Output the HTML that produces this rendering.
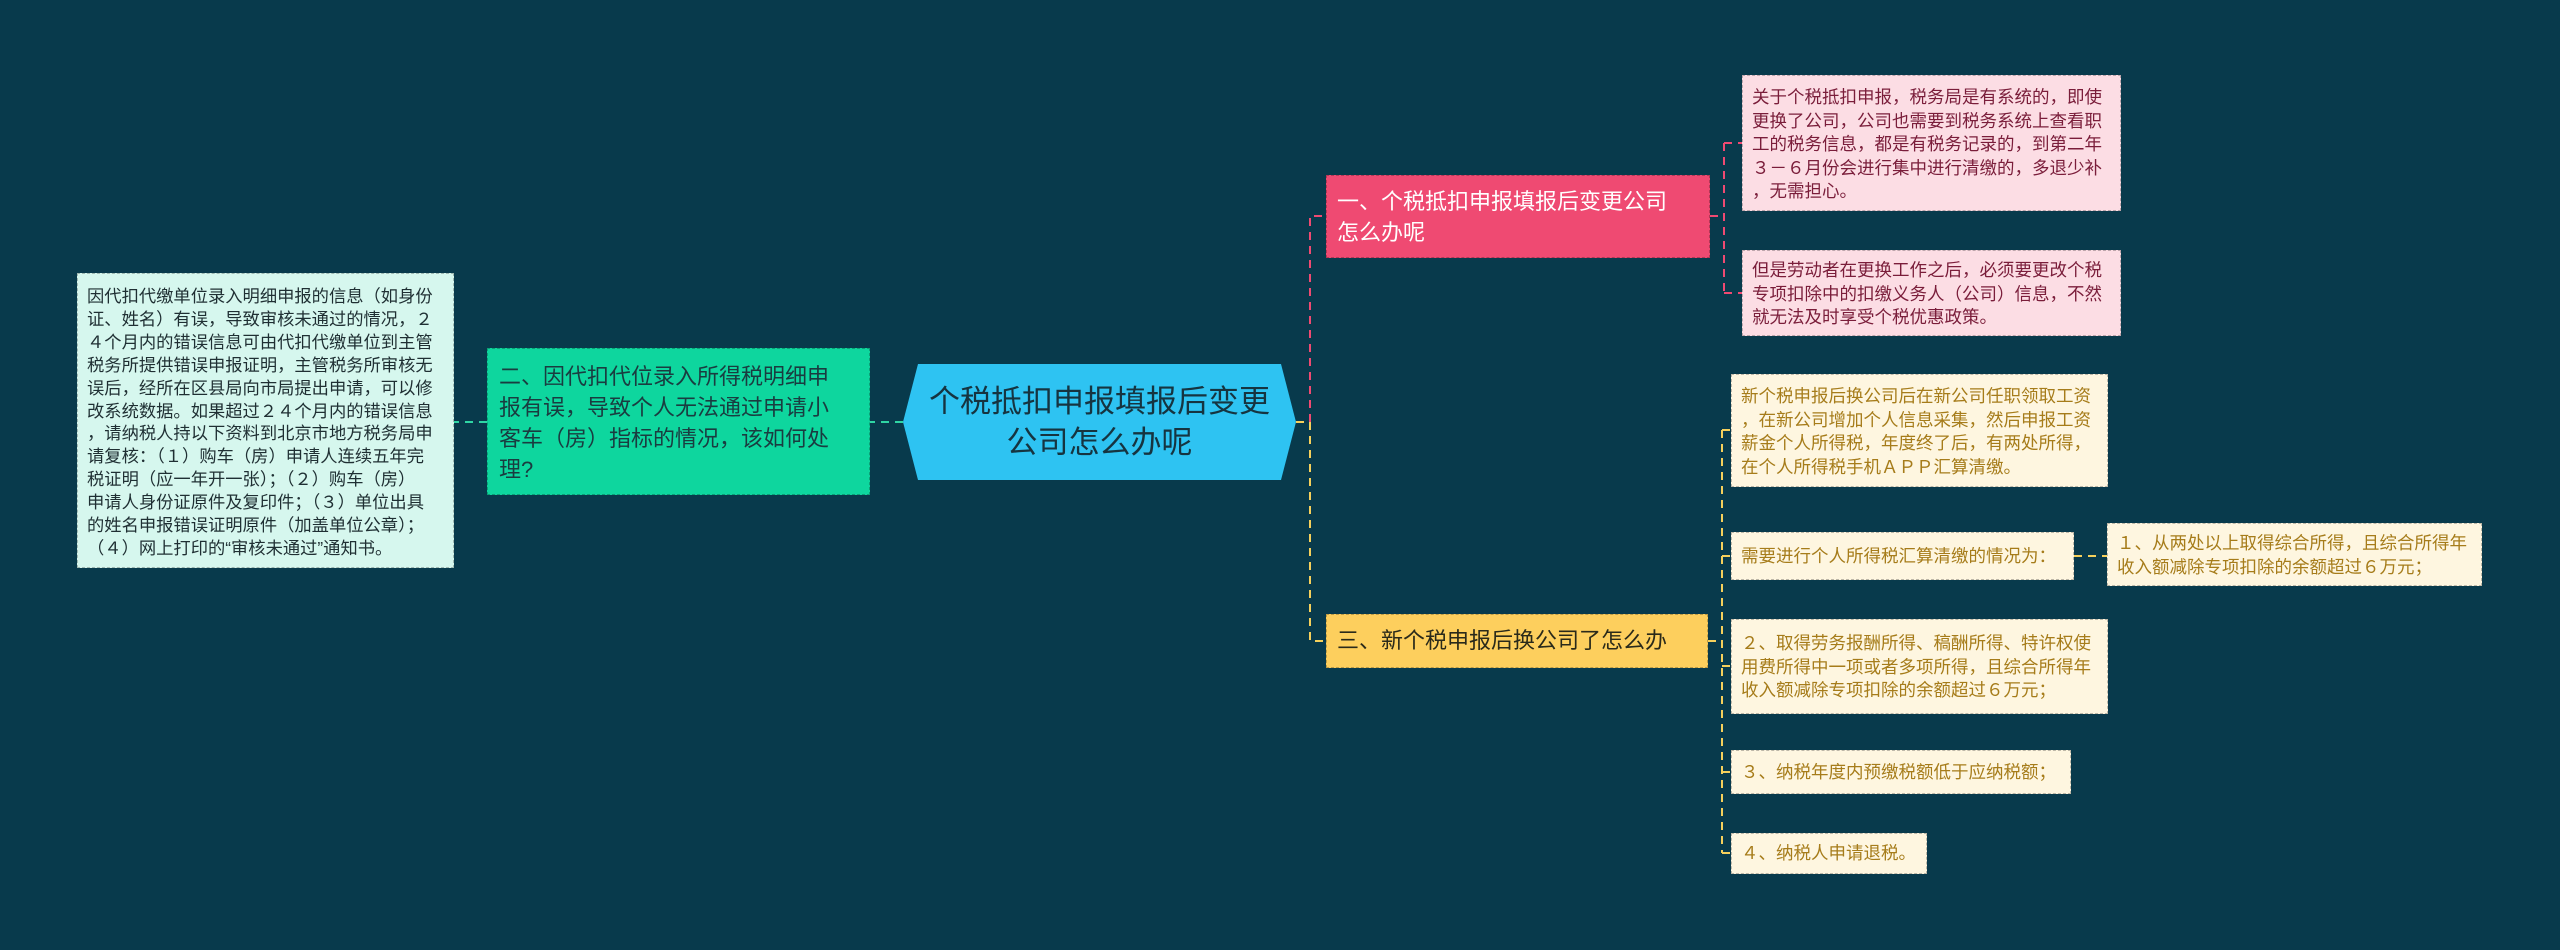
<!DOCTYPE html>
<html><head><meta charset="utf-8"><style>
body{margin:0;width:2560px;height:950px;background:#083a4c;position:relative;overflow:hidden;font-family:"Liberation Sans","Noto Sans CJK SC",sans-serif}
.b{position:absolute;box-sizing:border-box;white-space:nowrap;border:1.5px dashed rgba(0,0,0,0.25)}
</style></head><body>
<svg width="2560" height="950" style="position:absolute;left:0;top:0">
<g fill="none" stroke-width="2" stroke-dasharray="8,6">
<path d="M903 422 H870" stroke="#2fd6a4"/>
<path d="M487 422 H454" stroke="#2fd6a4"/>
<path d="M1296 422 H1310 V216 H1326" stroke="#ef4a72"/>
<path d="M1296 422 H1310 V641 H1326" stroke="#f5d05c"/>
<path d="M1710 216 H1724 M1724 143 V293 M1724 143 H1742 M1724 293 H1742" stroke="#ef4a72"/>
<path d="M1708 641 H1722 M1722 430 V853 M1722 430 H1731 M1722 556 H1731 M1722 666 H1731 M1722 772 H1731 M1722 853 H1731 M2074 556 H2107" stroke="#f5d05c"/>
</g>
<polygon points="903,422 918,364 1281,364 1296,422 1281,480 918,480" fill="#2ec3f2"/>
</svg>
<div style="position:absolute;left:903px;top:364px;width:393px;height:116px;display:flex;align-items:center;justify-content:center;text-align:center;font-size:31px;line-height:41px;color:#163440">个税抵扣申报填报后变更<br>公司怎么办呢</div>

<div class="b" style="left:487px;top:348px;width:383px;height:147px;background:#0ed69e;color:#1a3c40;font-size:22px;line-height:31px;padding:12px 10px 0 11px">二、因代扣代位录入所得税明细申<br>报有误，导致个人无法通过申请小<br>客车（房）指标的情况，该如何处<br>理?</div>

<div class="b" style="left:77px;top:273px;width:377px;height:295px;background:#d6f7ee;color:#1f2f33;font-size:17.3px;line-height:22.9px;padding:11px 8px 0 9px">因代扣代缴单位录入明细申报的信息（如身份<br>证、姓名）有误，导致审核未通过的情况，２<br>４个月内的错误信息可由代扣代缴单位到主管<br>税务所提供错误申报证明，主管税务所审核无<br>误后，经所在区县局向市局提出申请，可以修<br>改系统数据。如果超过２４个月内的错误信息<br>，请纳税人持以下资料到北京市地方税务局申<br>请复核：（１）购车（房）申请人连续五年完<br>税证明（应一年开一张）；（２）购车（房）<br>申请人身份证原件及复印件；（３）单位出具<br>的姓名申报错误证明原件（加盖单位公章）；<br>（４）网上打印的“审核未通过”通知书。</div>

<div class="b" style="left:1326px;top:175px;width:384px;height:83px;background:#ef4a72;color:#fff;font-size:22px;line-height:31px;padding:10px 10px 0 10px">一、个税抵扣申报填报后变更公司<br>怎么办呢</div>

<div class="b" style="left:1742px;top:75px;width:379px;height:136px;background:#fcdde4;color:#7a1d3a;font-size:17.5px;line-height:23.5px;padding:10px 8px 0 9px">关于个税抵扣申报，税务局是有系统的，即使<br>更换了公司，公司也需要到税务系统上查看职<br>工的税务信息，都是有税务记录的，到第二年<br>３－６月份会进行集中进行清缴的，多退少补<br>，无需担心。</div>
<div class="b" style="left:1742px;top:250px;width:379px;height:86px;background:#fcdde4;color:#7a1d3a;font-size:17.5px;line-height:23.5px;padding:8px 8px 0 9px">但是劳动者在更换工作之后，必须要更改个税<br>专项扣除中的扣缴义务人（公司）信息，不然<br>就无法及时享受个税优惠政策。</div>

<div class="b" style="left:1326px;top:614px;width:382px;height:54px;background:#fdcf5d;color:#2a2a1a;font-size:22px;line-height:52px;padding:0 10px">三、新个税申报后换公司了怎么办</div>

<div class="b" style="left:1731px;top:374px;width:377px;height:113px;background:#fef6e0;color:#a67c1a;font-size:17.5px;line-height:23.5px;padding:10px 8px 0 9px">新个税申报后换公司后在新公司任职领取工资<br>，在新公司增加个人信息采集，然后申报工资<br>薪金个人所得税，年度终了后，有两处所得，<br>在个人所得税手机ＡＰＰ汇算清缴。</div>
<div class="b" style="left:1731px;top:532px;width:343px;height:48px;background:#fef6e0;color:#a67c1a;font-size:17.5px;line-height:46px;padding:0 9px">需要进行个人所得税汇算清缴的情况为：</div>
<div class="b" style="left:2107px;top:523px;width:375px;height:63px;background:#fef6e0;color:#a67c1a;font-size:17.5px;line-height:23.5px;padding:8px 8px 0 9px">１、从两处以上取得综合所得，且综合所得年<br>收入额减除专项扣除的余额超过６万元；</div>
<div class="b" style="left:1731px;top:619px;width:377px;height:95px;background:#fef6e0;color:#a67c1a;font-size:17.5px;line-height:23.5px;padding:12px 8px 0 9px">２、取得劳务报酬所得、稿酬所得、特许权使<br>用费所得中一项或者多项所得，且综合所得年<br>收入额减除专项扣除的余额超过６万元；</div>
<div class="b" style="left:1731px;top:750px;width:340px;height:44px;background:#fef6e0;color:#a67c1a;font-size:17.5px;line-height:42px;padding:0 9px">３、纳税年度内预缴税额低于应纳税额；</div>
<div class="b" style="left:1731px;top:833px;width:196px;height:41px;background:#fef6e0;color:#a67c1a;font-size:17.5px;line-height:39px;padding:0 9px">４、纳税人申请退税。</div>
</body></html>
